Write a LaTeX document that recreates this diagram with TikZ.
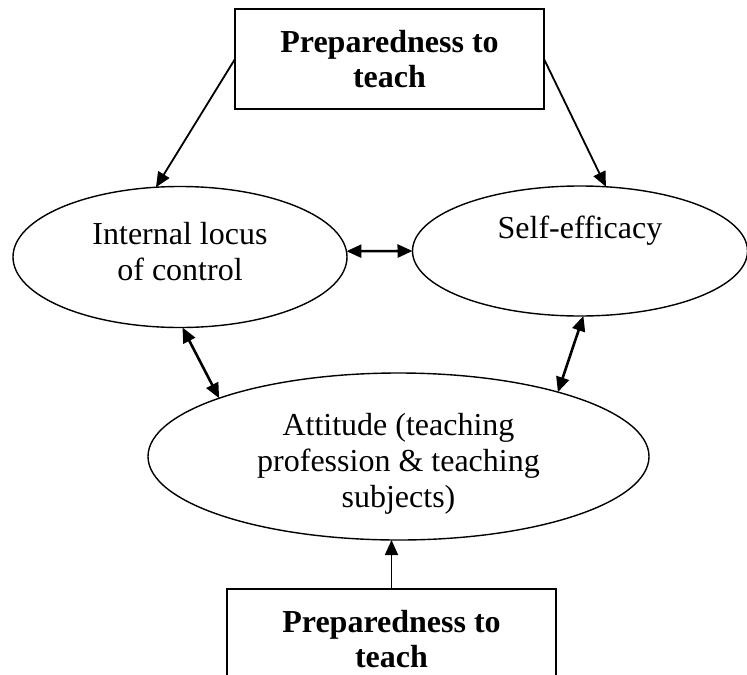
\documentclass[tikz,border=0pt]{standalone}
\usepackage{fontspec}
\setmainfont{Liberation Serif}
\usepackage{tikz}
\usetikzlibrary{shapes.geometric,arrows.meta,positioning}

\begin{document}
\begin{tikzpicture}[x=0.5pt, y=-0.5pt, font=\fontsize{16pt}{18pt}\selectfont]
			\tikzstyle{Box}		= [rectangle, draw, line width=0.8pt, minimum height=50pt, inner sep=0pt, outer sep=0pt, align=center, font=\fontsize{16pt}{17.5pt}\selectfont\bfseries]
			\tikzstyle{Oval}	= [ellipse, draw, line width=0.7pt, inner sep=0pt, outer sep=0pt, align=center]
			\tikzstyle{Link}	= [line width=0.9pt, -{Triangle[length=7.5pt, width=6.5pt]}]
			\tikzstyle{Both}	= [line width=1.3pt, {Triangle[length=7.5pt, width=6.5pt]}-{Triangle[length=7.5pt, width=6.5pt]}]
			
			\useasboundingbox (0,0) rectangle (747,674);
			
			\node (prepTop) at (389.5,59) [Box, minimum width=154.5pt] {Preparedness to\\teach};
			\node (locus) at (180,257) [Oval, minimum width=167pt, minimum height=70.5pt] {Internal locus\\of control\rule[-6pt]{0pt}{6pt}};
			\node (efficacy) at (580,251) [Oval, minimum width=167.5pt, minimum height=65pt] {Self-efficacy\\\strut};
			\node (attitude) at (398.5,456.5) [Oval, minimum width=250.5pt, minimum height=83.5pt] {\rule{0pt}{18pt}Attitude (teaching\\profession \& teaching\\subjects)};
			\node (prepBot) at (391.5,639) [Box, minimum width=164.5pt] {Preparedness to\\teach};
			
			\draw (prepTop.west) to (locus.109) [Link];
			\draw (prepTop.east) to (efficacy.68) [Link];
			\draw (locus.2) to (efficacy.west) [Both];
			\draw (locus.-88) to (attitude.162) [Both];
			\draw (efficacy.-87) to (attitude.22) [Both];
			\draw (prepBot.north) to (prepBot.north |- attitude.south) [Link];
		\end{tikzpicture}
\end{document}
